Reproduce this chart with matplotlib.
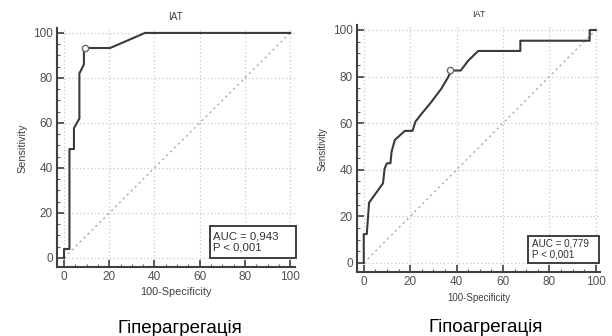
import matplotlib
matplotlib.use('Agg')
import matplotlib.pyplot as plt
from matplotlib.ticker import MultipleLocator
from matplotlib.patches import Rectangle

plt.rcParams['font.family'] = ['Liberation Sans', 'DejaVu Sans']

# ROC curve, hyperaggregation
hyper_x = [0, 0, 2.4, 2.4, 4.4, 4.4, 6.8, 6.8, 8.8, 8.8, 20.4, 35.8, 100]
hyper_y = [0, 4, 4, 48.4, 48.4, 57.7, 62, 82, 86, 93.3, 93.3, 100, 100]
hyper_cut = (9.3, 93.3)
hyper_auc = 'AUC = 0,943\nP < 0,001'

# ROC curve, hypoaggregation
hypo_x = [0, 0, 1.3, 2.3, 8.3, 9.0, 10.0, 11.5, 12.0, 13.4, 17.7, 21.0, 22.3,
          24.9, 29.2, 33.5, 36.4, 37.8, 41.8, 45.0, 49.3, 67.5, 67.5, 97.4,
          97.4, 100]
hypo_y = [0, 12.4, 12.4, 25.9, 34.2, 40.6, 42.8, 42.8, 47.8, 52.8, 56.7,
          56.7, 60.7, 64.0, 69.2, 74.9, 79.8, 82.6, 82.6, 86.8, 91.0, 91.0,
          95.4, 95.4, 100, 100]
hypo_cut = (37.2, 83.0)
hypo_auc = 'AUC = 0,779\nP < 0,001'

captions = ['Гіперагрегація', 'Гіпоагрегація']

fig = plt.figure(figsize=(6.12, 3.36), dpi=100)
ax1 = fig.add_axes([0.0935, 0.2054, 0.388, 0.71])
ax2 = fig.add_axes([0.583, 0.1896, 0.398, 0.735])

# axes, data, cut point, text, box (x, y, w, h), box font, label font, title font
panels = [
    (ax1, hyper_x, hyper_y, hyper_cut, hyper_auc, (64.5, 0, 38, 14.3), 8.2, 7.8, 7.2),
    (ax2, hypo_x, hypo_y, hypo_cut, hypo_auc, (71, 0, 30.5, 11.7), 7.1, 7.0, 6.5),
]

for ax, xs, ys, cut, auc, box, fs, lfs, tfs in panels:
    ax.set_xlim(-3, 102)
    ax.set_ylim(-4, 102)
    ax.plot([0, 100], [0, 100], color='#a8a8a8', lw=1.0, ls=(0, (1.5, 2.5)))
    ax.plot(xs, ys, color='#3a3a3a', lw=1.5, zorder=3)
    ax.plot(cut[0], cut[1], 'o', ms=4.5, mfc='white', mec='#6a6a6a', mew=1.0, zorder=4)
    ax.xaxis.set_major_locator(MultipleLocator(20))
    ax.yaxis.set_major_locator(MultipleLocator(20))
    ax.xaxis.set_minor_locator(MultipleLocator(5))
    ax.yaxis.set_minor_locator(MultipleLocator(5))
    ax.grid(True, which='major', color='#c8c8c8', ls=(0, (1, 2)), lw=0.9)
    for s in ['top', 'right']:
        ax.spines[s].set_visible(False)
    for s in ['left', 'bottom']:
        ax.spines[s].set_color('#404040')
        ax.spines[s].set_linewidth(1.5)
    ax.tick_params(which='major', direction='in', length=5, width=1.2,
                   color='#404040', labelsize=8.5, labelcolor='#505050', pad=3)
    ax.tick_params(which='minor', direction='in', length=2.5, width=0.8,
                   color='#606060')
    ax.set_title('IAT', fontsize=tfs, color='#404040', pad=6)
    ax.set_xlabel('100-Specificity', fontsize=lfs, color='#404040', labelpad=3)
    ax.set_ylabel('Sensitivity', fontsize=lfs, color='#404040', labelpad=4)
    ax.add_patch(Rectangle((box[0], box[1]), box[2], box[3], fill=True,
                           fc='white', ec='#303030', lw=1.3, zorder=5,
                           clip_on=False))
    ax.text(box[0] + 1.5, box[1] + box[3] / 2, auc, fontsize=fs,
            color='#303030', va='center', ha='left', zorder=6,
            linespacing=1.1)

fig.text(0.294, 0.009, captions[0], fontsize=13.5, ha='center', va='baseline')
fig.text(0.794, 0.012, captions[1], fontsize=13.5, ha='center', va='baseline')

fig.savefig('out.png', dpi=100)
